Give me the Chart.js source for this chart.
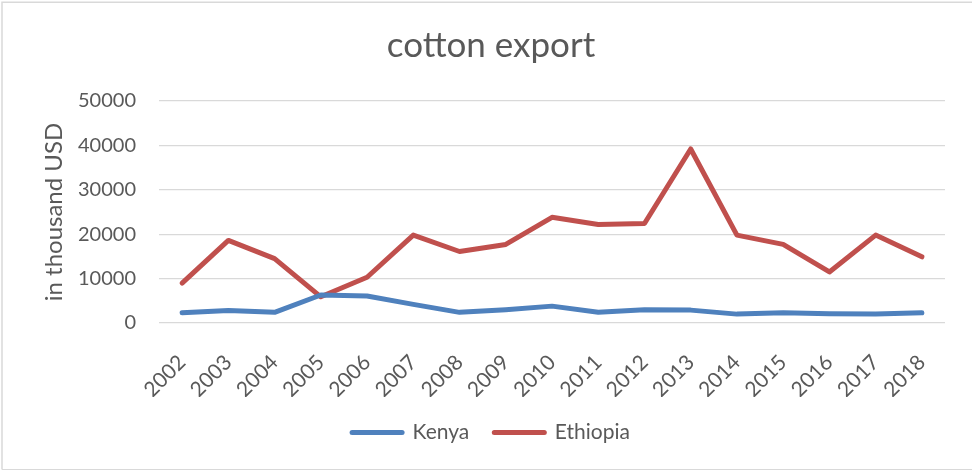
<!DOCTYPE html>
<html>
<head>
<meta charset="utf-8">
<script src="https://cdn.jsdelivr.net/npm/chart.js@4"></script>
<style>
  html, body { margin: 0; padding: 0; background: #ffffff; }
  #wrap { width: 972px; height: 470px; position: relative; }
</style>
</head>
<body>
<div id="wrap"><canvas id="c" width="972" height="470"></canvas></div>
<script>
const years = ['2002','2003','2004','2005','2006','2007','2008','2009','2010','2011','2012','2013','2014','2015','2016','2017','2018'];
const kenya = [2300, 2800, 2400, 6300, 6100, 4200, 2400, 3000, 3800, 2400, 3000, 2900, 2000, 2300, 2100, 2000, 2300];
const ethiopia = [9000, 18600, 14500, 5900, 10300, 19800, 16100, 17700, 23800, 22200, 22400, 39200, 19800, 17700, 11500, 19800, 14900];
const yTicks = [0, 10000, 20000, 30000, 40000, 50000];
const seriesNames = ['Kenya', 'Ethiopia'];
const titleText = 'cotton export';
const yTitle = 'in thousand USD';

const FONT = 'Lato, Calibri, Carlito, "Open Sans", sans-serif';
const TEXT = '#595959';
const GRID = '#d9d9d9';
const BLUE = '#4f81bd';
const RED = '#c0504d';

const borderPlugin = {
  id: 'frame',
  beforeDraw(chart) {
    const ctx = chart.ctx;
    ctx.save();
    ctx.fillStyle = '#ffffff';
    ctx.fillRect(0, 0, chart.width, chart.height);
    ctx.strokeStyle = GRID;
    ctx.lineWidth = 1.5;
    ctx.beginPath();
    ctx.moveTo(2, 469.5);
    ctx.lineTo(2, 2.25);
    ctx.lineTo(972, 2.25);
    ctx.stroke();
    ctx.beginPath();
    ctx.lineWidth = 1;
    ctx.moveTo(2, 469.5);
    ctx.lineTo(972, 469.5);
    ctx.stroke();
    ctx.restore();
  }
};

new Chart(document.getElementById('c'), {
  type: 'line',
  data: {
    labels: years,
    datasets: [
      { label: seriesNames[0], data: kenya, borderColor: BLUE, backgroundColor: BLUE },
      { label: seriesNames[1], data: ethiopia, borderColor: RED, backgroundColor: RED }
    ]
  },
  options: {
    responsive: false,
    animation: false,
    devicePixelRatio: 1,
    layout: { padding: { top: 0, left: 10, right: 0, bottom: 17 } },
    elements: {
      line: { borderWidth: 5, tension: 0, borderCapStyle: 'round', borderJoinStyle: 'round' },
      point: { radius: 0, hoverRadius: 0 }
    },
    plugins: {
      title: {
        display: true,
        text: titleText,
        color: TEXT,
        font: { family: FONT, size: 35, weight: 'normal' },
        padding: { top: 25, bottom: 34 }
      },
      legend: {
        display: true,
        position: 'bottom',
        labels: {
          color: TEXT,
          font: { family: FONT, size: 21 },
          usePointStyle: true,
          pointStyleWidth: 50,
          padding: 25,
          generateLabels(chart) {
            return chart.data.datasets.map((ds, i) => ({
              text: ds.label,
              fillStyle: ds.borderColor,
              strokeStyle: ds.borderColor,
              lineWidth: 5,
              lineCap: 'round',
              pointStyle: 'line',
              fontColor: TEXT,
              hidden: false,
              datasetIndex: i
            }));
          }
        }
      },
      tooltip: { enabled: false }
    },
    scales: {
      x: {
        offset: true,
        grid: { display: false, offset: true },
        border: { display: false },
        ticks: {
          color: TEXT,
          font: { family: FONT, size: 21 },
          minRotation: 45,
          maxRotation: 45,
          autoSkip: false,
          padding: 19
        },
        afterFit(scale) { scale.height = 74; }
      },
      y: {
        min: 0,
        max: 50000,
        afterBuildTicks(scale) { scale.ticks = yTicks.map(v => ({ value: v })); },
        grid: { color: GRID, lineWidth: 1.3, drawTicks: false },
        border: { display: false },
        ticks: {
          color: TEXT,
          font: { family: FONT, size: 20 },
          padding: 23,
          callback: v => String(v)
        },
        title: {
          display: true,
          text: yTitle,
          color: TEXT,
          font: { family: FONT, size: 24 },
          padding: { top: 30, bottom: 0 }
        },
        afterFit(scale) { scale.width = 149; }
      },
      yR: {
        position: 'right',
        display: true,
        grid: { display: false },
        border: { display: false },
        ticks: { display: false },
        afterFit(scale) { scale.width = 27; }
      }
    }
  },
  plugins: [borderPlugin]
});
</script>
</body>
</html>
